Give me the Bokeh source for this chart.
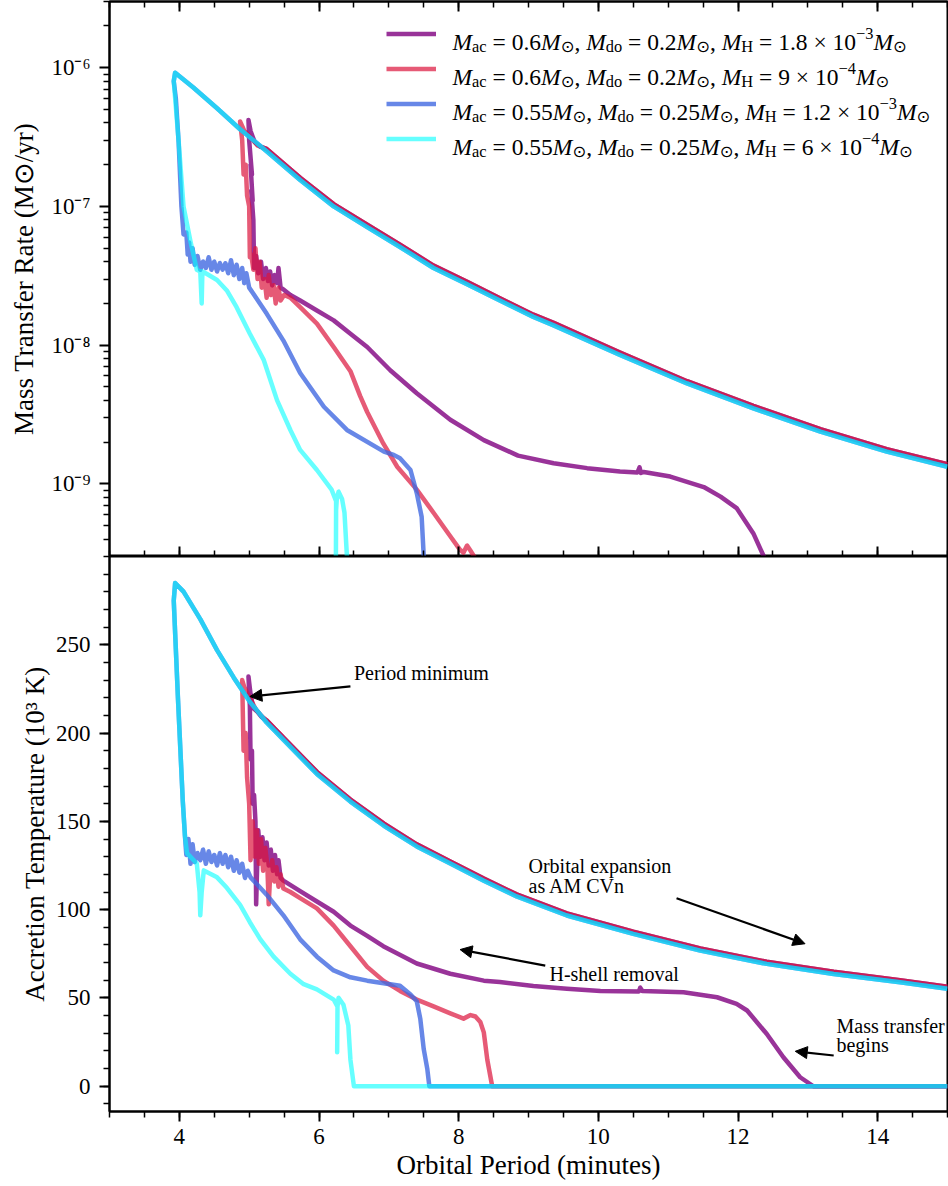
from bokeh.plotting import figure
from bokeh.layouts import column
from bokeh.models import (Range1d, FixedTicker, LinearAxis, CustomJSTickFormatter,
                          Label, Arrow, NormalHead, Legend, LegendItem)
from bokeh.embed import file_html
from bokeh.resources import INLINE

FONT = "Liberation Serif"

# ------------------------------------------------------------------ data
# Shared AM CVn (orbital expansion) branch of the 0.55 Msun models
amcvn_rate_p = [3.94, 4.20, 4.54, 4.87, 5.25, 5.73, 6.21, 6.69, 7.16, 7.64, 8.12, 8.59,
                9.07, 9.36, 10.31, 11.27, 12.22, 13.18, 14.13, 15.0]
amcvn_rate = [9.2e-7, 7.2e-7, 5.1e-7, 3.6e-7, 2.5e-7, 1.55e-7, 1.0e-7, 7.1e-8, 5.1e-8, 3.6e-8,
              2.75e-8, 2.1e-8, 1.6e-8, 1.39e-8, 8.5e-9, 5.3e-9, 3.5e-9, 2.38e-9, 1.71e-9, 1.33e-9]
amcvn_temp_p = [3.94, 4.06, 4.30, 4.54, 4.78, 5.01, 5.25, 5.49, 5.97, 6.45, 6.93, 7.40, 7.88,
                8.36, 8.83, 9.55, 10.50, 11.46, 12.41, 13.37, 14.32, 15.0]
amcvn_temp = [285.0, 280.1, 264.5, 247.0, 231.4, 217.7, 206.0, 196.3, 176.8, 161.2, 147.5, 135.8,
              126.1, 116.4, 107.5, 96.7, 86.3, 76.8, 69.3, 63.6, 58.9, 55.2]

# AM CVn branch of the 0.6 Msun models
branch06_rate_p = [5.25, 5.73, 6.21, 6.69, 7.16, 7.64, 8.12, 8.59, 9.07, 9.36, 10.31, 11.27,
                   12.22, 13.18, 14.13, 15.0]
branch06_rate = [2.6e-7, 1.61e-7, 1.04e-7, 7.4e-8, 5.3e-8, 3.75e-8, 2.86e-8, 2.18e-8, 1.66e-8,
                 1.45e-8, 8.85e-9, 5.5e-9, 3.65e-9, 2.48e-9, 1.78e-9, 1.39e-9]
branch06_temp_p = [5.25, 5.49, 5.97, 6.45, 6.93, 7.40, 7.88, 8.36, 8.83, 9.55, 10.50, 11.46,
                   12.41, 13.37, 14.32, 15.0]
branch06_temp = [207.2, 197.5, 178.0, 162.4, 148.7, 137.0, 127.3, 117.6, 108.7, 97.9, 87.5, 78.0,
                 70.5, 64.8, 60.1, 56.4]

# Model 1: Mac=0.6, Mdo=0.2, MH=1.8e-3 (before reaching the AM CVn branch)
purple_rate_p = [12.45, 12.37, 12.22, 11.98, 11.75, 11.51, 11.03, 10.65, 10.61, 10.59,
                 10.56, 10.31, 9.84, 9.36, 8.85, 8.36, 7.88, 7.40, 7.02, 6.69,
                 6.45, 6.21, 5.97, 5.73, 5.59, 5.50, 5.45, 5.42, 5.40, 5.36,
                 5.33, 5.30, 5.27, 5.24, 5.20, 5.17, 5.13, 5.10, 5.07, 5.06,
                 5.03, 5.05, 5.02, 5.04, 5.00, 4.99, 5.02, 5.08, 5.16]
purple_rate = [2.0e-10, 3.0e-10, 4.4e-10, 6.7e-10, 8.1e-10, 9.5e-10, 1.13e-9, 1.22e-9, 1.20e-9, 1.32e-9,
               1.21e-9, 1.23e-9, 1.30e-9, 1.41e-9, 1.6e-9, 2.07e-9, 2.9e-9, 4.5e-9, 6.6e-9, 9.7e-9,
               1.21e-8, 1.51e-8, 1.78e-8, 2.1e-8, 2.3e-8, 2.5e-8, 2.6e-8, 3.6e-8, 2.8e-8, 3.2e-8,
               2.7e-8, 3.4e-8, 2.9e-8, 3.6e-8, 3.0e-8, 4.0e-8, 3.3e-8, 4.4e-8, 3.6e-8, 8e-8,
               1.3e-7, 1.1e-7, 2.0e-7, 1.7e-7, 3.0e-7, 4.2e-7, 3.5e-7, 2.9e-7, 2.7e-7]
purple_temp_p = [15.0, 13.08, 12.89, 12.65, 12.41, 12.13, 11.98, 11.70, 11.22, 10.63,
                 10.60, 10.58, 10.03, 9.55, 9.07, 8.59, 8.36, 7.88, 7.40, 6.92,
                 6.69, 6.45, 6.21, 5.97, 5.73, 5.49, 5.45, 5.42, 5.40, 5.37,
                 5.34, 5.31, 5.28, 5.25, 5.22, 5.19, 5.16, 5.13, 5.11, 5.10,
                 5.09, 5.07, 5.05, 5.04, 5.02, 5.01, 4.99, 5.02, 5.06, 5.12, 5.18]
purple_temp = [0, 0, 5.1, 16.4, 29.7, 42.9, 46.7, 50.4, 53.2, 54.0,
               55.8, 53.6, 54.0, 55.2, 56.8, 59.0, 59.8, 63.7, 69.5, 79.3,
               85.2, 91.0, 98.8, 104.6, 110.5, 116.4, 118, 128, 120, 131,
               122, 134, 125, 138, 128, 141, 130, 145, 118, 103,
               150, 165, 160, 190, 185, 215, 232, 222, 214, 212, 209]

# Model 2: Mac=0.6, Mdo=0.2, MH=9e-4
red_rate_p = [8.30, 8.24, 8.17, 8.12, 8.07, 8.02, 7.88, 7.64, 7.40, 7.12,
              6.92, 6.69, 6.59, 6.45, 6.21, 5.97, 5.73, 5.59, 5.50, 5.45,
              5.42, 5.38, 5.35, 5.31, 5.28, 5.25, 5.22, 5.18, 5.15, 5.12,
              5.09, 5.06, 5.03, 5.01, 5.00, 4.97, 4.95, 4.92, 4.90, 4.87,
              4.93, 5.01, 5.12]
red_rate = [1.5e-10, 2.9e-10, 3.3e-10, 3.6e-10, 3.2e-10, 3.35e-10, 4.2e-10, 6.2e-10, 9.1e-10, 1.33e-9,
            1.96e-9, 3.3e-9, 4.3e-9, 6.5e-9, 9.7e-9, 1.43e-8, 1.88e-8, 2.2e-8, 2.3e-8, 2.1e-8,
            2.6e-8, 2.0e-8, 2.7e-8, 2.3e-8, 3.2e-8, 2.2e-8, 3.0e-8, 2.6e-8, 4.0e-8, 3.0e-8,
            5.0e-8, 3.5e-8, 4.5e-8, 4.3e-8, 1.0e-7, 1.2e-7, 2.0e-7, 1.7e-7, 3.0e-7, 4.1e-7,
            3.5e-7, 3.2e-7, 2.75e-7]
red_temp_p = [15.0, 8.48, 8.41, 8.36, 8.31, 8.24, 8.17, 8.07, 7.88, 7.64,
              7.40, 7.16, 6.92, 6.69, 6.45, 6.21, 5.97, 5.73, 5.59, 5.49,
              5.45, 5.42, 5.39, 5.36, 5.33, 5.30, 5.28, 5.26, 5.23, 5.20,
              5.17, 5.14, 5.11, 5.08, 5.05, 5.02, 5.00, 4.97, 4.95, 4.92,
              4.90, 4.93, 5.01, 5.10, 5.18]
red_temp = [0, 0, 15, 30.5, 36.4, 39.5, 40.3, 38.3, 41.3, 45.2,
            49.1, 54.0, 59.8, 67.6, 79.3, 91.0, 100.7, 106.5, 110, 112,
            120, 113, 124, 116, 128, 119, 103, 125, 135, 122,
            140, 126, 145, 130, 150, 128, 160, 175, 200, 190,
            230, 226, 220, 213, 209.5]

# Model 3: Mac=0.55, Mdo=0.25, MH=1.2e-3
blue_rate_p = [7.53, 7.50, 7.47, 7.40, 7.31, 7.16, 7.07, 6.93, 6.40, 6.07,
               5.73, 5.49, 5.25, 5.06, 5.00, 4.96, 4.93, 4.90, 4.86, 4.82,
               4.78, 4.74, 4.70, 4.66, 4.62, 4.58, 4.54, 4.50, 4.46, 4.42,
               4.38, 4.34, 4.30, 4.26, 4.22, 4.19, 4.16, 4.14, 4.12, 4.10,
               4.06, 4.03, 3.99, 3.95, 3.92]
blue_rate = [1.5e-10, 3.0e-10, 5.8e-10, 8.6e-10, 1.26e-9, 1.53e-9, 1.62e-9, 1.71e-9, 2.45e-9, 3.6e-9,
             6.3e-9, 1.08e-8, 1.69e-8, 2.35e-8, 2.6e-8, 3.3e-8, 2.8e-8, 3.6e-8, 3.0e-8, 3.8e-8,
             3.2e-8, 4.1e-8, 3.3e-8, 3.9e-8, 3.5e-8, 3.9e-8, 3.4e-8, 4.0e-8, 3.5e-8, 4.3e-8,
             3.6e-8, 4.0e-8, 3.5e-8, 4.4e-8, 3.8e-8, 5.0e-8, 4.0e-8, 5.5e-8, 4.5e-8, 6.5e-8,
             6.3e-8, 1.0e-7, 2.9e-7, 6.0e-7, 8.0e-7]
blue_temp_p = [15.0, 7.58, 7.55, 7.50, 7.45, 7.40, 7.31, 7.16, 7.02, 6.69,
               6.45, 6.21, 5.97, 5.73, 5.49, 5.25, 5.02, 4.98, 4.94, 4.90,
               4.86, 4.82, 4.78, 4.74, 4.70, 4.66, 4.62, 4.58, 4.54, 4.50,
               4.46, 4.42, 4.38, 4.34, 4.30, 4.26, 4.22, 4.19, 4.16, 4.13,
               4.10, 4.08, 4.05, 3.98, 3.92]
blue_temp = [0, 0, 10, 21, 38.3, 48.1, 52.0, 56.9, 57.8, 59.8,
             61.7, 65.6, 73.4, 83.2, 96.8, 108.5, 118.3, 122, 118, 126,
             121, 128, 122, 130, 124, 131, 126, 132, 125, 131,
             127, 133, 126, 134, 128, 132, 127, 137, 126, 140,
             131, 142, 161, 220, 275]

# Model 4: Mac=0.55, Mdo=0.25, MH=6e-4
cyan_rate_p = [6.42, 6.40, 6.365, 6.33, 6.28, 6.255, 6.245, 6.24, 6.245, 6.18,
               5.97, 5.73, 5.59, 5.40, 5.21, 5.01, 4.82, 4.68, 4.54, 4.39,
               4.33, 4.32, 4.30, 4.25, 4.16, 4.06, 3.99, 3.92]
cyan_rate = [1.5e-10, 3.0e-10, 6.2e-10, 7.8e-10, 8.8e-10, 7.8e-10, 6.5e-10, 1.5e-10, 7.5e-10, 9.1e-10,
             1.26e-9, 1.76e-9, 2.45e-9, 4.0e-9, 7.8e-9, 1.21e-8, 1.88e-8, 2.48e-8, 2.95e-8, 3.27e-8,
             3.4e-8, 2.0e-8, 3.4e-8, 3.5e-8, 5.6e-8, 1.0e-7, 2.95e-7, 8.0e-7]
cyan_temp_p = [15.0, 6.50, 6.45, 6.42, 6.35, 6.28, 6.265, 6.26, 6.265, 6.21,
               5.97, 5.78, 5.59, 5.35, 5.16, 5.01, 4.87, 4.68, 4.54, 4.35,
               4.32, 4.30, 4.29, 4.25, 4.11, 4.08, 4.05, 3.98, 3.92]
cyan_temp = [0, 0, 15, 34.4, 46.1, 50.1, 45, 19.3, 45, 49.1,
             54.9, 57.8, 63.7, 73.4, 83.2, 92.9, 102.7, 112.4, 118.3, 122.2,
             110, 96.8, 110, 126.1, 132, 141.7, 161.2, 219.7, 275]

# Legend values (Mac, Mdo, MH mantissa, MH exponent)
leg_mac = ["0.6", "0.6", "0.55", "0.55"]
leg_mdo = ["0.2", "0.2", "0.25", "0.25"]
leg_mh = ["1.8 \u00d7 10", "9 \u00d7 10", "1.2 \u00d7 10", "6 \u00d7 10"]
leg_exp = ["\u22123", "\u22124", "\u22123", "\u22124"]

# Ticks
x_major = [4, 6, 8, 10, 12, 14]
x_minor = [3 + 0.5 * i for i in range(25)]
t_major = [0, 50, 100, 150, 200, 250]
t_minor = [-10 + 10 * i for i in range(32)]
r_major = [1e-9, 1e-8, 1e-7, 1e-6]
r_minor = [k * 10.0 ** e for e in range(-10, -5) for k in range(2, 10)]

# Annotations (bottom panel, data coordinates)
ann_text = ["Period minimum", "Orbital expansion", "as AM CVn", "H-shell removal",
            "Mass transfer", "begins"]
ann_x = [6.50, 9.00, 9.00, 9.30, 13.41, 13.41]
ann_y = [233.9, 125.0, 113.3, 63.6, 34.4, 23.6]
arr_x0 = [6.45, 11.12, 9.24, 13.37]
arr_y0 = [226.5, 106.5, 68.3, 17.4]
arr_x1 = [5.01, 12.96, 8.02, 12.82]
arr_y1 = [220.7, 80.7, 77.4, 19.8]

# ------------------------------------------------------------------ style
series = [
    dict(color="purple", alpha=0.8,
         p_rate=purple_rate_p + branch06_rate_p, rate=purple_rate + branch06_rate,
         p_temp=purple_temp_p + branch06_temp_p, temp=purple_temp + branch06_temp),
    dict(color="crimson", alpha=0.7,
         p_rate=red_rate_p + branch06_rate_p, rate=red_rate + branch06_rate,
         p_temp=red_temp_p + branch06_temp_p, temp=red_temp + branch06_temp),
    dict(color="royalblue", alpha=0.8,
         p_rate=blue_rate_p + amcvn_rate_p, rate=blue_rate + amcvn_rate,
         p_temp=blue_temp_p + amcvn_temp_p, temp=blue_temp + amcvn_temp),
    dict(color="cyan", alpha=0.6,
         p_rate=cyan_rate_p + amcvn_rate_p, rate=cyan_rate + amcvn_rate,
         p_temp=cyan_temp_p + amcvn_temp_p, temp=cyan_temp + amcvn_temp),
]
LW = 4.5
W = 948
FRAME_H = 555
x_range = Range1d(3, 15)


def style_axis(ax, inward=False, labels=True):
    ax.axis_line_width = 2
    ax.axis_line_color = "black"
    ax.major_tick_line_width = 2
    ax.minor_tick_line_width = 1.5
    ax.major_tick_line_color = "black"
    ax.minor_tick_line_color = "black"
    if inward:
        ax.major_tick_in, ax.major_tick_out = 10, 0
        ax.minor_tick_in, ax.minor_tick_out = 6, 0
    else:
        ax.major_tick_in, ax.major_tick_out = 0, 10
        ax.minor_tick_in, ax.minor_tick_out = 0, 6
    ax.major_label_text_font = FONT
    ax.major_label_text_color = "black"
    ax.axis_label_text_font = FONT
    ax.axis_label_text_font_style = "normal"
    ax.axis_label_text_color = "black"
    ax.axis_label_text_font_size = "27px"
    if labels:
        ax.major_label_text_font_size = "23px"
        ax.major_label_standoff = 9
    else:
        ax.formatter = CustomJSTickFormatter(code="return '';")
        ax.major_label_text_font_size = "0px"
        ax.major_label_standoff = 0


def base_fig(height, y_range, **kw):
    p = figure(width=W, height=height, x_range=x_range, y_range=y_range,
               output_backend="svg", toolbar_location=None,
               min_border_left=109, min_border_right=1, **kw)
    p.grid.visible = False
    p.outline_line_color = "black"
    p.outline_line_width = 2
    p.outline_line_alpha = 1
    p.background_fill_color = "white"
    p.border_fill_color = "white"
    return p


# ------------------------------------------------------------------ top panel
top = base_fig(FRAME_H + 1, Range1d(3e-10, 3e-6), y_axis_type="log",
               min_border_top=1, min_border_bottom=0)
top.xaxis.ticker = FixedTicker(ticks=x_major, minor_ticks=x_minor)
style_axis(top.xaxis[0], inward=True, labels=False)
above = LinearAxis(ticker=FixedTicker(ticks=x_major, minor_ticks=x_minor))
style_axis(above, inward=True, labels=False)
top.add_layout(above, "above")
top.yaxis.ticker = FixedTicker(ticks=r_major, minor_ticks=r_minor)
style_axis(top.yaxis[0])
top.yaxis.formatter = CustomJSTickFormatter(code="""
const e = Math.round(Math.log10(tick));
const m = {"-":"\\u207b","0":"\\u2070","1":"\\u00b9","2":"\\u00b2","3":"\\u00b3",
           "4":"\\u2074","5":"\\u2075","6":"\\u2076","7":"\\u2077","8":"\\u2078","9":"\\u2079"};
return "10" + String(e).split("").map(c => m[c]).join("");
""")
top.yaxis.axis_label = "Mass Transfer Rate (M\u2299/yr)"
top.yaxis.axis_label_standoff = 9

renderers = []
for s in series:
    r = top.line(s["p_rate"], s["rate"], line_color=s["color"], line_alpha=s["alpha"],
                 line_width=LW, line_join="round")
    renderers.append(r)

legend = Legend(items=[LegendItem(label=" ", renderers=[r]) for r in renderers],
                location="top_right", glyph_width=50, glyph_height=35, label_height=35,
                label_width=496, label_standoff=0, spacing=0, padding=0, margin=15,
                border_line_alpha=0, background_fill_alpha=0, label_text_font_size="1px")
top.add_layout(legend)

# rich legend text (subscripts / superscripts), anchored at the frame's top-right corner
F = 23.5
WID = {c: 0.5 for c in "0123456789"}
WID.update({".": 0.25, ",": 0.25, " ": 0.25, "=": 0.564, "\u00d7": 0.564, "\u2212": 0.564,
            "a": 0.444, "c": 0.444, "d": 0.5, "o": 0.5, "H": 0.722, "M": 0.833, "\u2299": 0.838})


def piece_width(txt, size):
    return sum(WID.get(c, 0.5) for c in txt) * size


for i in range(4):
    pieces = [("M", "it", 0), ("ac", "sub", 0), ("= " + leg_mac[i], "rm", 0.25),
              ("M", "it", 0), ("\u2299", "odot", 0), (",", "rm", 0),
              ("M", "it", 0.25), ("do", "sub", 0), ("= " + leg_mdo[i], "rm", 0.25),
              ("M", "it", 0), ("\u2299", "odot", 0), (",", "rm", 0),
              ("M", "it", 0.25), ("H", "sub", 0), ("= " + leg_mh[i], "rm", 0.25),
              (leg_exp[i], "sup", 0), ("M", "it", 0), ("\u2299", "odot", 0)]
    base = 32.7 + 35 * i + 8
    xo = -495.0
    for txt, sty, gap in pieces:
        xo += gap * F
        size = F if sty in ("rm", "it") else 0.7 * F
        dy = {"rm": 0, "it": 0, "sub": -4.5, "odot": -4.0, "sup": 8.5}[sty]
        top.add_layout(Label(x=15, y=3e-6, x_offset=xo, y_offset=-base + dy, text=txt,
                             text_font=("DejaVu Sans" if sty == "odot" else FONT),
                             text_font_style=("italic" if sty == "it" else "normal"),
                             text_font_size=f"{size:.1f}px", text_color="black",
                             text_align="left", text_baseline="alphabetic"))
        xo += piece_width(txt, size)

# ------------------------------------------------------------------ bottom panel
bot = base_fig(FRAME_H + 75, Range1d(-14.3, 300), min_border_top=0, min_border_bottom=75)
bot.xaxis.ticker = FixedTicker(ticks=x_major, minor_ticks=x_minor)
style_axis(bot.xaxis[0])
bot.xaxis.major_label_standoff = 7
bot.xaxis.axis_label = "Orbital Period (minutes)"
bot.xaxis.axis_label_standoff = 3
bot.yaxis.ticker = FixedTicker(ticks=t_major, minor_ticks=t_minor)
style_axis(bot.yaxis[0])
bot.yaxis.axis_label = "Accretion Temperature (10\u00b3 K)"
bot.yaxis.axis_label_standoff = 3

for s in series:
    bot.line(s["p_temp"], s["temp"], line_color=s["color"], line_alpha=s["alpha"],
             line_width=LW, line_join="round")

for t, x, y in zip(ann_text, ann_x, ann_y):
    bot.add_layout(Label(x=x, y=y, text=t, text_font=FONT, text_font_size="20px",
                         text_color="black", text_align="left", text_baseline="middle"))
for x0, y0, x1, y1 in zip(arr_x0, arr_y0, arr_x1, arr_y1):
    bot.add_layout(Arrow(x_start=x0, y_start=y0, x_end=x1, y_end=y1, line_width=2.2,
                         line_color="black",
                         end=NormalHead(size=12, fill_color="black", line_color="black",
                                        line_width=1)))

layout = column(top, bot, spacing=0)
open("out.html", "w").write(file_html(layout, INLINE, title="Mass transfer and accretion"))
